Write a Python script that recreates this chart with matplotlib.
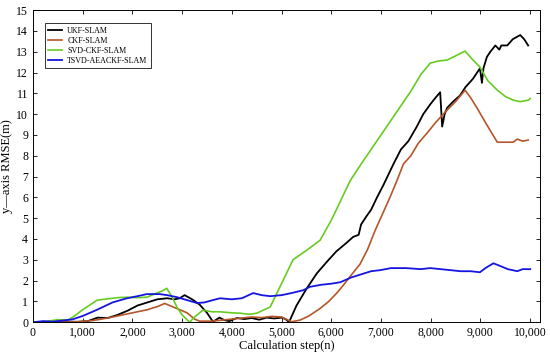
import matplotlib.pyplot as plt
from matplotlib.ticker import FuncFormatter

plt.rcParams['font.family'] = ['Liberation Serif', 'DejaVu Serif']

# UKF-SLAM
ukf_x = [0, 300, 600, 900, 1100, 1300, 1500, 1700, 1900, 2100, 2300, 2500, 2700, 2850, 2950,
         3050, 3200, 3350, 3500, 3620, 3750, 3850, 3950, 4100, 4250, 4400, 4550, 4700, 4850,
         5000, 5080, 5150, 5300, 5500, 5710, 5910, 6100, 6300, 6440, 6550, 6600, 6710, 6800,
         6920, 7050, 7150, 7250, 7400, 7550, 7720, 7850, 8000, 8100, 8190, 8230, 8280, 8330,
         8450, 8590, 8700, 8850, 8990, 9030, 9060, 9130, 9200, 9300, 9380, 9420, 9540, 9650,
         9800, 9880, 9960]
ukf_y = [0, 0.02, 0.03, 0.02, 0.05, 0.22, 0.2, 0.35, 0.55, 0.8, 0.95, 1.1, 1.15, 1.1, 1.15,
         1.3, 1.1, 0.85, 0.45, 0.02, 0.22, 0.1, 0.05, 0.2, 0.15, 0.2, 0.12, 0.22, 0.18,
         0.22, 0.15, 0.0, 0.8, 1.6, 2.35, 2.9, 3.4, 3.8, 4.1, 4.2, 4.7, 5.1, 5.4,
         6.0, 6.6, 7.1, 7.6, 8.3, 8.7, 9.4, 10.0, 10.5, 10.8, 11.05, 9.4, 10.0, 10.3,
         10.6, 10.9, 11.3, 11.7, 12.2, 11.5, 12.2, 12.75, 13.0, 13.3, 13.1, 13.3, 13.3, 13.6,
         13.8, 13.6, 13.3]

# CKF-SLAM
ckf_x = [0, 500, 900, 1200, 1500, 1800, 2100, 2300, 2500, 2650, 2800, 2950, 3100, 3250, 3350,
         3600, 3800, 4000, 4200, 4400, 4600, 4800, 5000, 5200, 5370, 5550, 5780, 5950, 6110,
         6250, 6380, 6580, 6730, 6880, 7030, 7180, 7320, 7450, 7600, 7750, 7930, 8100, 8330,
         8500, 8690, 8800, 8930, 9100, 9250, 9340, 9500, 9660, 9740, 9850, 9960]
ckf_y = [0, 0.0, 0.02, 0.08, 0.2, 0.35, 0.5, 0.6, 0.75, 0.9, 0.75, 0.6, 0.45, 0.15, 0.05,
         0.05, 0.1, 0.15, 0.2, 0.25, 0.22, 0.28, 0.25, 0.02, 0.1, 0.3, 0.67, 1.0, 1.4,
         1.8, 2.2, 2.8, 3.5, 4.4, 5.2, 6.0, 6.8, 7.6, 8.0, 8.6, 9.1, 9.6, 10.2,
         10.6, 11.15, 10.8, 10.3, 9.6, 9.0, 8.65, 8.65, 8.65, 8.8, 8.7, 8.75]

# SVD-CKF-SLAM
svd_x = [0, 300, 500, 700, 800, 1000, 1290, 1500, 1700, 1890, 2100, 2290, 2490, 2600, 2690,
         2800, 2900, 3000, 3150, 3250, 3420, 3600, 3760, 4000, 4170, 4350, 4500, 4770, 5000,
         5230, 5500, 5775, 6000, 6200, 6380, 6600, 6800, 7000, 7200, 7400, 7600, 7800, 7990,
         8150, 8330, 8500, 8690, 8850, 8990, 9150, 9340, 9500, 9660, 9800, 9960, 10000]
svd_y = [0, 0.05, 0.12, 0.1, 0.24, 0.6, 1.06, 1.12, 1.18, 1.2, 1.18, 1.2, 1.4, 1.5, 1.63,
         1.2, 0.7, 0.35, 0.0, 0.25, 0.58, 0.5, 0.5, 0.45, 0.43, 0.38, 0.43, 0.73, 1.86,
         3.0, 3.45, 3.94, 4.9, 5.9, 6.8, 7.6, 8.3, 9.0, 9.7, 10.4, 11.1, 11.9, 12.45,
         12.55, 12.6, 12.8, 13.03, 12.6, 12.26, 11.6, 11.15, 10.85, 10.67, 10.6, 10.67, 10.75]

# TSVD-AEACKF-SLAM
tsvd_x = [0, 200, 400, 600, 800, 1000, 1290, 1600, 1890, 2100, 2290, 2550, 2700, 2900, 3100,
          3300, 3450, 3600, 3760, 4000, 4200, 4430, 4600, 4770, 5000, 5200, 5440, 5570, 5800,
          6000, 6180, 6400, 6600, 6800, 6980, 7200, 7500, 7800, 7990, 8200, 8400, 8600, 8800,
          8990, 9100, 9260, 9400, 9550, 9650, 9740, 9850, 10000]
tsvd_y = [0, 0.05, 0.03, 0.08, 0.14, 0.3, 0.6, 0.95, 1.15, 1.25, 1.35, 1.35, 1.3, 1.2, 1.06,
          0.92, 0.95, 1.05, 1.15, 1.1, 1.15, 1.4, 1.3, 1.25, 1.3, 1.4, 1.54, 1.7, 1.8,
          1.85, 1.92, 2.15, 2.3, 2.45, 2.5, 2.6, 2.6, 2.55, 2.6, 2.55, 2.5, 2.45, 2.45,
          2.4, 2.6, 2.83, 2.7, 2.55, 2.5, 2.45, 2.55, 2.55]

fig = plt.figure(figsize=(5.5, 3.6), dpi=100)
ax = fig.add_axes([0.06, 0.105, 0.922, 0.867])

ax.plot(ukf_x, ukf_y, color='black', lw=1.3, label='UKF-SLAM')
ax.plot(ckf_x, ckf_y, color='#B5562A', lw=1.2, label='CKF-SLAM')
ax.plot(svd_x, svd_y, color='#66CC22', lw=1.2, label='SVD-CKF-SLAM')
ax.plot(tsvd_x, tsvd_y, color='#1515E0', lw=1.3, label='TSVD-AEACKF-SLAM')

ax.set_xlim(0, 10200)
ax.set_ylim(0, 15)
ax.set_xticks(range(0, 10001, 1000))
ax.set_yticks(range(0, 16))
ax.xaxis.set_major_formatter(FuncFormatter(lambda v, p: '{:,}'.format(int(v))))
ax.tick_params(direction='in', top=True, right=True, labelsize=8.5, length=3, width=0.6)
for s in ax.spines.values():
    s.set_linewidth(0.7)

ax.set_xlabel('Calculation step(n)', fontsize=9, labelpad=1)
ax.set_ylabel('y\u2014axis RMSE(m)', fontsize=9, labelpad=2)

leg = ax.legend(loc='upper left', bbox_to_anchor=(0.015, 0.97), fontsize=5.8, frameon=True,
                fancybox=False, edgecolor='black', handlelength=1.8, borderpad=0.4,
                labelspacing=0.25, handletextpad=0.6)
leg.get_frame().set_linewidth(0.7)

plt.savefig('out.png', dpi=100)
